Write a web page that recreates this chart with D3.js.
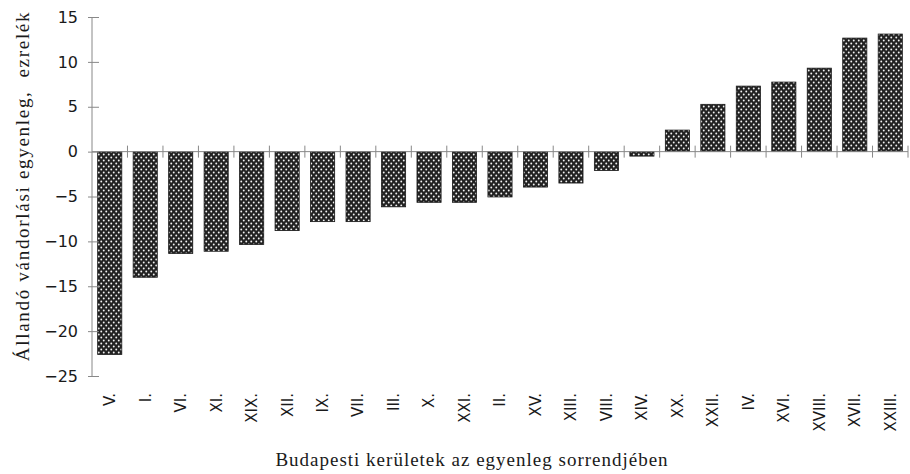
<!DOCTYPE html>
<html><head><meta charset="utf-8">
<script src="https://cdn.jsdelivr.net/npm/d3@7"></script>
<style>body{margin:0;background:#fff}</style>
</head><body>
<svg id="c" width="910" height="474"></svg>
<script>
const categories = ["V.","I.","VI.","XI.","XIX.","XII.","IX.","VII.","III.","X.","XXI.","II.","XV.","XIII.","VIII.","XIV.","XX.","XXII.","IV.","XVI.","XVIII.","XVII.","XXIII."];
const values = [-22.6,-14.0,-11.35,-11.1,-10.35,-8.8,-7.8,-7.8,-6.15,-5.65,-5.65,-5.05,-3.95,-3.5,-2.1,-0.5,2.4,5.27,7.3,7.75,9.3,12.65,13.1];
const yTicks = [15,10,5,0,-5,-10,-15,-20,-25];
const yTitle = "Állandó vándorlási egyenleg,  ezrelék";
const xTitle = "Budapesti kerületek az egyenleg sorrendjében";

const svg = d3.select("#c");
const defs = svg.append("defs");
const pat = defs.append("pattern").attr("id","dots").attr("patternUnits","userSpaceOnUse")
  .attr("width",5).attr("height",6);
pat.append("rect").attr("width",5).attr("height",6).attr("fill","#222");
pat.append("circle").attr("cx",1.25).attr("cy",1.5).attr("r",0.95).attr("fill","#f2f2f2");
pat.append("circle").attr("cx",3.75).attr("cy",4.5).attr("r",0.95).attr("fill","#f2f2f2");

const pIn = 0.32;
const x = d3.scaleBand().domain(categories).range([92,908]).paddingInner(pIn).paddingOuter(pIn/2);
const y = d3.scaleLinear().domain([-25,15]).range([376,17]);
const step = x.step();

// bars
svg.append("g").selectAll("rect").data(values).join("rect")
  .attr("x",(d,i)=>x(categories[i]))
  .attr("width",x.bandwidth())
  .attr("y",d=>y(Math.max(0,d)))
  .attr("height",d=>Math.abs(y(d)-y(0)))
  .attr("fill","url(#dots)")
  .attr("stroke","#1a1a1a").attr("stroke-width",0.8);

// y axis
const yAxis = d3.axisLeft(y).tickValues(yTicks).tickSize(4).tickPadding(10)
  .tickFormat(d=>d<0?"\u2212"+Math.abs(d):String(d));
const gy = svg.append("g").attr("transform","translate(92,0)").call(yAxis);
gy.select(".domain").attr("stroke","#888").attr("d","M0,"+y(15)+"V"+y(-25));
gy.selectAll(".tick line").attr("stroke","#888").attr("x1",7);
gy.selectAll(".tick text").attr("font-family","DejaVu Sans").attr("font-size",16).attr("fill","#1a1a1a");

// x axis line at 0
const gx = svg.append("g");
gx.append("line").attr("x1",92).attr("x2",908).attr("y1",y(0)).attr("y2",y(0)).attr("stroke","#888");
const bounds = categories.map(c=>x(c)-step*pIn/2).concat([x(categories[categories.length-1])+x.bandwidth()+step*pIn/2]);
gx.selectAll("line.t").data(bounds.slice(1)).join("line").attr("class","t")
  .attr("x1",d=>d).attr("x2",d=>d).attr("y1",y(0)-6).attr("y2",y(0)+6).attr("stroke","#888");

// x labels
svg.append("g").selectAll("text").data(categories).join("text")
  .attr("transform",d=>`translate(${x(d)+x.bandwidth()/2},393) rotate(-90)`)
  .attr("text-anchor","end").attr("dy","0.36em")
  .attr("font-family","DejaVu Sans").attr("font-size",15).attr("fill","#1a1a1a")
  .text(d=>d);

// titles
svg.append("text").attr("transform","translate(29,186) rotate(-90)")
  .attr("text-anchor","middle").attr("font-family","Liberation Serif").attr("font-size",19)
  .attr("letter-spacing",1.7).attr("fill","#1a1a1a").style("white-space","pre").text(yTitle);
svg.append("text").attr("x",472).attr("y",466).attr("text-anchor","middle")
  .attr("font-family","Liberation Serif").attr("font-size",19).attr("letter-spacing",1)
  .attr("fill","#1a1a1a").text(xTitle);
</script>
</body></html>
